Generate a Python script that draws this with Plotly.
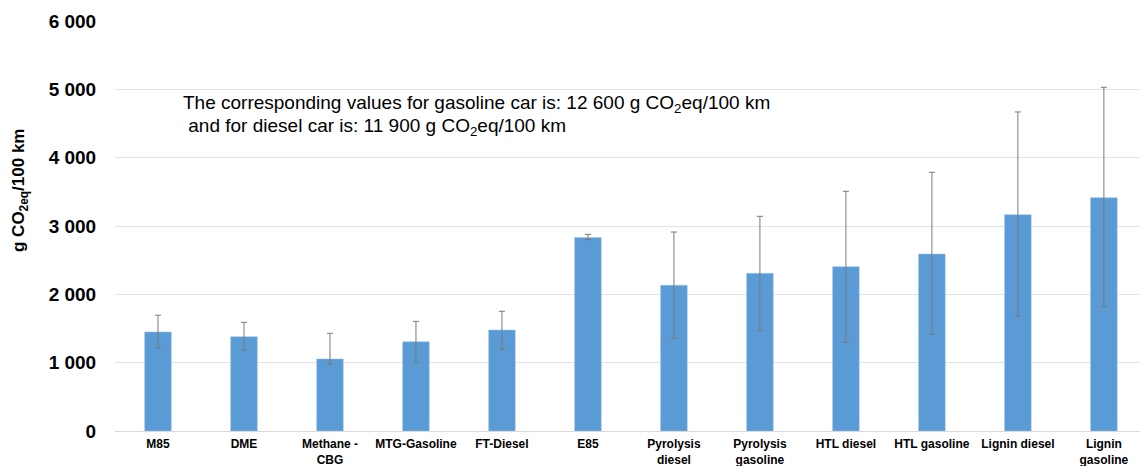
import plotly.graph_objects as go

categories = ["M85", "DME", "Methane -<br>CBG", "MTG-Gasoline", "FT-Diesel", "E85",
              "Pyrolysis<br>diesel", "Pyrolysis<br>gasoline", "HTL diesel", "HTL gasoline",
              "Lignin diesel", "Lignin<br>gasoline"]
values = [1450, 1380, 1054, 1307, 1478, 2830, 2132, 2308, 2405, 2590, 3166, 3415]
upper = [1695, 1590, 1430, 1605, 1752, 2877, 2912, 3142, 3508, 3786, 4669, 5030]
lower = [1219, 1185, 976, 1005, 1195, 2800, 1357, 1474, 1298, 1415, 1679, 1815]

y_tickvals = [0, 1000, 2000, 3000, 4000, 5000, 6000]
y_ticktext = ["0", "1 000", "2 000", "3 000", "4 000", "5 000", "6 000"]

err_plus = [u - v for u, v in zip(upper, values)]
err_minus = [v - l for v, l in zip(values, lower)]

FONT = "Arial, 'Liberation Sans', sans-serif"

fig = go.Figure()
fig.add_trace(go.Bar(
    x=list(range(len(categories))),
    y=values,
    width=0.31,
    marker=dict(color="#5B9BD5", line=dict(color="#9DC3E6", width=0.5)),
    error_y=dict(type="data", symmetric=False, array=err_plus, arrayminus=err_minus,
                 color="#7A7A7A", thickness=1, width=3),
    hoverinfo="y",
))

fig.update_layout(
    width=1140, height=466,
    margin=dict(l=115, r=0, t=21, b=35),
    paper_bgcolor="white", plot_bgcolor="white",
    showlegend=False,
    font=dict(family=FONT, color="black"),
    xaxis=dict(
        tickmode="array", tickvals=list(range(len(categories))), ticktext=categories,
        range=[-0.5, 11.42], automargin=False,
        tickfont=dict(family=FONT, size=12, color="black", weight="bold"),
        showgrid=False, showline=True, linecolor="#D9D9D9", linewidth=1,
        ticks="outside", ticklen=2, tickcolor="rgba(0,0,0,0)",
    ),
    yaxis=dict(
        range=[0, 6000], tickvals=y_tickvals, ticktext=y_ticktext, automargin=False,
        tickfont=dict(family=FONT, size=19, color="black", weight="bold"),
        showgrid=True, gridcolor="#E3E3E3", gridwidth=1,
        zeroline=False, showline=False,
        ticks="outside", ticklen=14, tickcolor="rgba(0,0,0,0)",
    ),
    annotations=[
        dict(text="g CO<sub>2eq</sub>/100 km", textangle=-90, xref="paper", yref="paper",
             x=0, y=(431 - 190) / 410, xshift=-95, xanchor="center", yanchor="middle",
             showarrow=False,
             font=dict(family=FONT, size=17, color="black", weight="bold")),
        dict(text="The corresponding values for gasoline car is: 12 600 g CO<sub>2</sub>eq/100 km",
             xref="paper", yref="y", x=(181 - 115) / 1025, y=5000 - (104 - 89) * 1000 / 68.33,
             xanchor="left", yanchor="middle", showarrow=False,
             font=dict(family=FONT, size=19, color="black")),
        dict(text=" and for diesel car is: 11 900 g CO<sub>2</sub>eq/100 km",
             xref="paper", yref="y", x=(181 - 115) / 1025, y=5000 - (127 - 89) * 1000 / 68.33,
             xanchor="left", yanchor="middle", showarrow=False,
             font=dict(family=FONT, size=19, color="black")),
    ],
)

fig.write_html("out.html", config={"displayModeBar": False},
               post_script="document.body.style.margin='0';document.body.style.overflow='hidden';")
